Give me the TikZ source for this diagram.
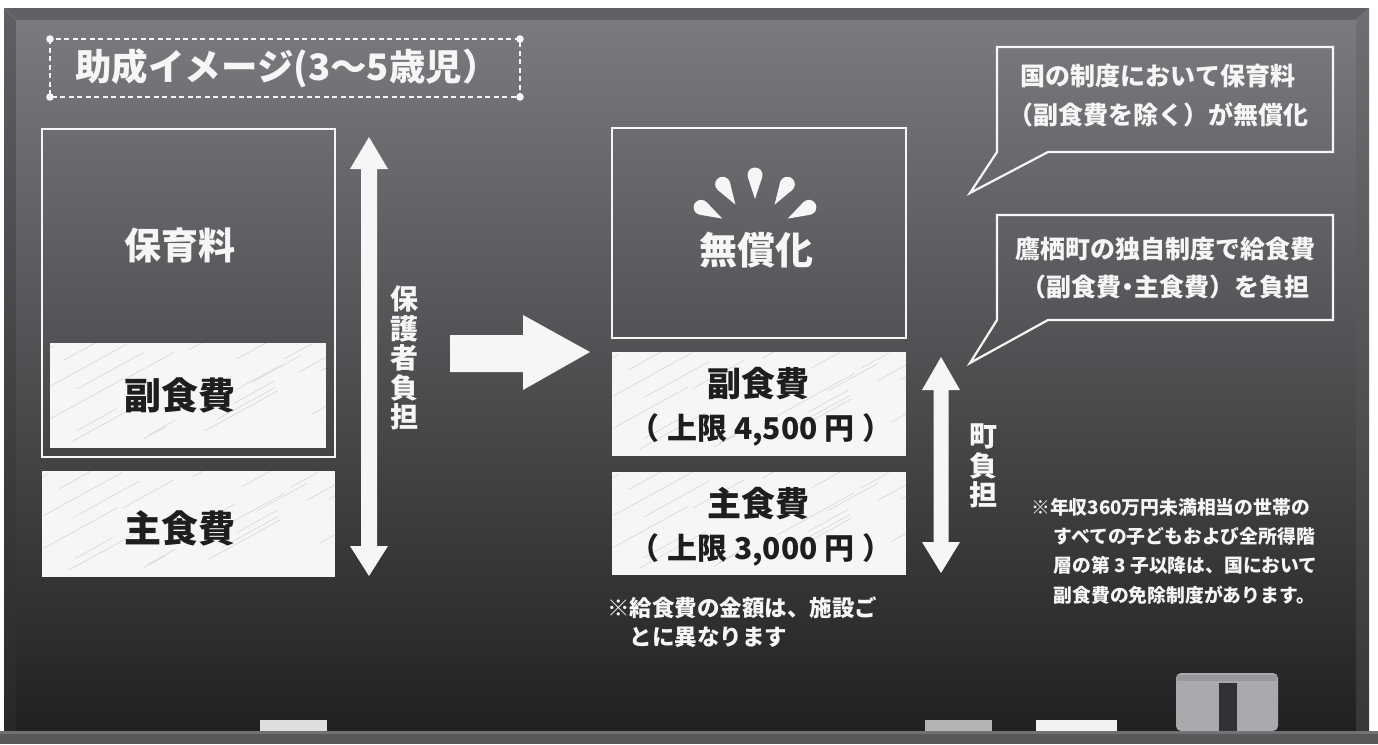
\documentclass[tikz,border=0pt]{standalone}
\usepackage{fontspec}
\newfontfamily\jp{Noto Sans CJK JP}
\usetikzlibrary{calc}
\definecolor{boardtop}{RGB}{122,123,127}
\definecolor{boardbot}{RGB}{33,33,34}
\definecolor{chalkw}{RGB}{246,246,246}
\definecolor{inkb}{RGB}{30,30,30}
\definecolor{lbevt}{RGB}{95,96,100}
\definecolor{lbevb}{RGB}{40,40,41}
\definecolor{rbevt}{RGB}{110,111,114}
\definecolor{rbevb}{RGB}{55,55,56}
\definecolor{tbev}{RGB}{96,97,100}
\definecolor{tray}{RGB}{88,89,91}
\definecolor{traytop}{RGB}{112,113,115}
\definecolor{chalka}{RGB}{222,222,222}
\definecolor{chalkb}{RGB}{178,179,181}
\definecolor{chalkc}{RGB}{242,242,242}
\definecolor{eraser}{RGB}{168,170,174}
\definecolor{erasertop}{RGB}{150,152,156}
\definecolor{eraserslot}{RGB}{50,50,52}
\definecolor{streak}{RGB}{200,200,200}
\tikzset{
  chalk/.style={draw=chalkw, line width=2.2pt},
  wbox/.style={fill=chalkw},
  wt/.style={text=chalkw, font=\jp\bfseries, inner sep=0pt},
  bt/.style={text=inkb, font=\jp\bfseries, inner sep=0pt},
  fs/.style={font=\jp\bfseries\fontsize{#1}{#1}\selectfont},
}
\newcommand\streaks[4]{%
  \begin{scope}
    \clip (#1,#2) rectangle (#3,#4);
    \pgfmathsetseed{7}
    \foreach \i in {1,...,22}{
      \pgfmathsetmacro\sx{#1-60+rnd*(#3-#1+60)}
      \pgfmathsetmacro\sl{20+rnd*60}
      \pgfmathsetmacro\sy{#2+rnd*(#4-#2)}
      \draw[streak, line width=0.35pt] (\sx,\sy) -- ++(\sl,-0.55*\sl);
    }
  \end{scope}}
\begin{document}
\begin{tikzpicture}[x=1pt,y=-1pt]
\useasboundingbox (0,0) rectangle (1378,744);
\fill[white] (0,0) rectangle (1378,744);
% frame bevels
\shade[top color=lbevt, bottom color=lbevb] (4,8) -- (16,20) -- (16,731) -- (4,731) -- cycle;
\shade[top color=rbevt, bottom color=rbevb] (1369,8) -- (1369,731) -- (1356,731) -- (1356,20) -- cycle;
\fill[tbev] (4,8) -- (1369,8) -- (1356,20) -- (16,20) -- cycle;
% board
\shade[top color=boardtop, bottom color=boardbot] (16,20) rectangle (1356,731);
% tray
\fill[tray] (0,731) rectangle (1378,744);
\fill[traytop] (0,731) rectangle (1378,734);
% chalk and eraser
\fill[chalka] (260,720) rectangle (327,731);
\fill[chalkb] (925,720) rectangle (992,731);
\fill[chalkc] (1036,720) rectangle (1117,731);
\fill[eraser, rounded corners=5pt] (1176,731) -- (1176,673) -- (1278,673) -- (1278,731) -- cycle;
\fill[erasertop] (1177,675) rectangle (1277,681);
\fill[eraserslot] (1219,683) rectangle (1237,731);

% title
\draw[chalkw, line width=1.6pt, dash pattern=on 5pt off 3.5pt] (50,39) rectangle (520,97);
\foreach \p in {{(50,39)},{(520,39)},{(50,97)},{(520,97)}}
  \fill[chalkw] \p circle[radius=3.8];
\node[wt, fs=36.5] (title) at (287,68) {助成イメージ(3～5歳児）};

% left column
\draw[chalk] (42,129) rectangle (335,457);
\node[wt, fs=37] (hoiku) at (180,245) {保育料};
\fill[wbox] (50,343) rectangle (326,448);
\streaks{50}{343}{326}{448}
\node[bt, fs=37] (fuku1) at (180,395) {副食費};
\fill[wbox] (42,471) rectangle (335,577);
\streaks{42}{471}{335}{577}
\node[bt, fs=37] (shu1) at (180,528) {主食費};

% left double arrow
\coordinate (la1) at (369,137);
\coordinate (la2) at (369,576);
\fill[chalkw] (la1) -- (388,169) -- (377,169) -- (377,546) -- (388,546) -- (la2) -- (350,546) -- (361,546) -- (361,169) -- (350,169) -- cycle;
\node[wt, fs=28, align=center] (hogo) at (404,358) {保\\[1.4pt]護\\[1.4pt]者\\[1.4pt]負\\[1.4pt]担};

% big arrow
\coordinate (ba1) at (450,353);
\coordinate (ba2) at (590,352);
\fill[chalkw] (450,335) -- (523,335) -- (523,315) -- (ba2) -- (523,390) -- (523,372) -- (450,372) -- cycle;

% middle column
\draw[chalk] (612,128) rectangle (906,338);
\coordinate (sc) at (755,236);
\foreach \a in {-152,-122,-90,-58,-28}{
  \pgfmathsetmacro\al{\a+108}
  \pgfmathsetmacro\ar{\a-108}
  \fill[chalkw] ($(sc)+(\a:61)$) circle[radius=7.5];
  \fill[chalkw] ($(sc)+(\a:37)$) -- ($(sc)+(\a:61)+(\al:7.5)$) -- ($(sc)+(\a:61)+(\ar:7.5)$) -- cycle;
}
\node[wt, fs=38] (mushou) at (756,250) {無償化};
\fill[wbox] (612,352) rectangle (906,456);
\streaks{612}{352}{906}{456}
\node[bt, fs=34] (fuku2) at (758,384) {副食費};
\node[bt, fs=30] (fuku2l) at (761,430) {（\hspace{8pt}上限 4,500 円\hspace{8pt}）};
\fill[wbox] (612,472) rectangle (906,575);
\streaks{612}{472}{906}{575}
\node[bt, fs=34] (shu2) at (758,504) {主食費};
\node[bt, fs=30] (shu2l) at (761,550) {（\hspace{8pt}上限 3,000 円\hspace{8pt}）};

% town double arrow
\coordinate (ma1) at (941,357);
\coordinate (ma2) at (941,573);
\fill[chalkw] (ma1) -- (960,390) -- (948.5,390) -- (948.5,542) -- (960,542) -- (ma2) -- (922,542) -- (933.5,542) -- (933.5,390) -- (922,390) -- cycle;
\node[wt, fs=28, align=center] (town) at (983,466) {町\\[1.2pt]負\\[1.2pt]担};

\node[wt, fs=22.5, align=left, anchor=west] (note1) at (607,622) {※給食費の金額は、施設ご\\[7pt]\hspace*{1em}とに異なります};

% callouts
\draw[chalk, line join=miter] (1048,152) -- (970,193) -- (997,152) -- (997,47) -- (1333,47) -- (1333,152) -- cycle;
\node[wt, fs=25, align=center] (c1) at (1158,96) {国の制度において保育料\\[14pt]（副食費を除く）が無償化};
\draw[chalk, line join=miter] (1048,320) -- (970,363) -- (997,320) -- (997,215) -- (1333,215) -- (1333,320) -- cycle;
\node[wt, fs=25, align=center] (c2) at (1165,268) {鷹栖町の独自制度で給食費\\[13pt]（副食費\hspace{-6pt}・\hspace{-6pt}主食費）を負担};

\node[wt, fs=18.8, align=left, anchor=west] (note2) at (1031,551) {※年収360万円未満相当の世帯の\\[10.5pt]\hspace*{1.2em}すべての子どもおよび全所得階\\[10.5pt]\hspace*{1.2em}層の第 3 子以降は、国において\\[10.5pt]\hspace*{1.2em}副食費の免除制度があります。};
\end{tikzpicture}
\end{document}
